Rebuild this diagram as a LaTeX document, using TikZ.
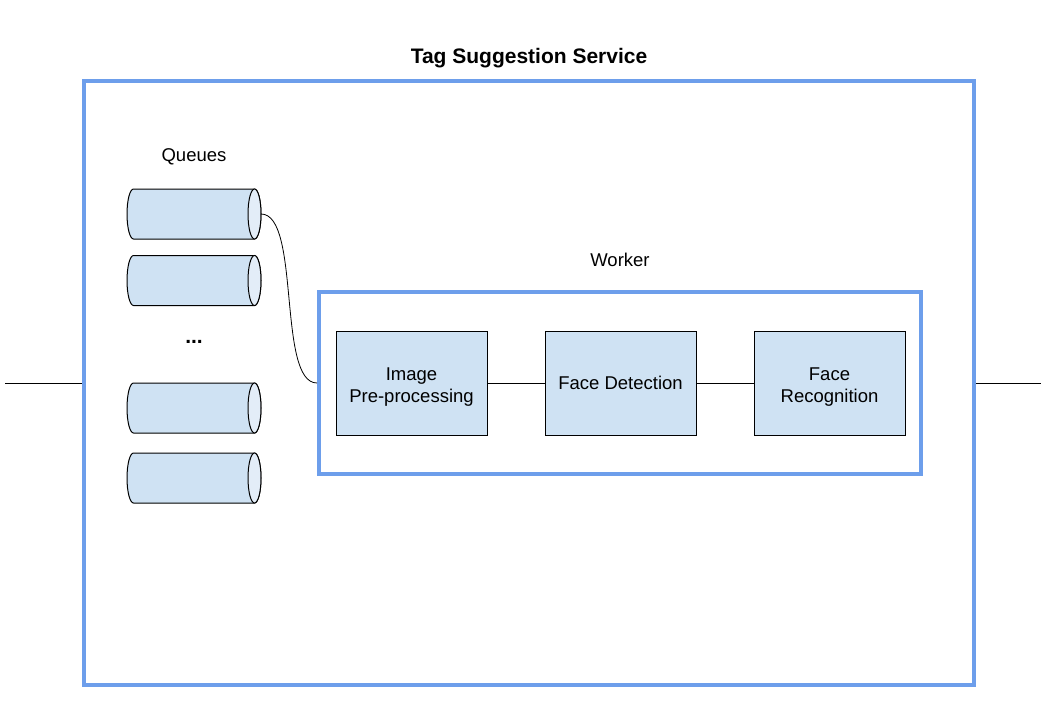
\documentclass[tikz,border=0pt]{standalone}
\usepackage{fontspec}
\setmainfont{Liberation Sans}
\usetikzlibrary{positioning}
\definecolor{boxfill}{HTML}{CFE2F3}
\definecolor{endfill}{HTML}{E3EDF8}
\definecolor{frameblue}{HTML}{6D9EEB}

\tikzset{
  queue/.pic = {
    \filldraw[line width=1pt, fill=boxfill] (60.5,-25) -- (-60.5,-25)
      arc (270:90:6.5 and 25) -- (60.5,25) arc (90:-90:6.5 and 25) -- cycle;
    \filldraw[line width=1pt, fill=endfill] (60.5,0) ellipse (6.5 and 25);
    \coordinate (-out) at (67,0);
  }
}
\newcommand{\toppad}{\rule{0pt}{20pt}}

\begin{document}
\begin{tikzpicture}[x=1pt, y=-1pt,
    every node/.style = {font=\fontsize{18.5}{22}\selectfont},
    frame/.style = {draw=frameblue, line width=4pt, minimum width=#1},
    stage/.style = {draw, line width=1pt, fill=boxfill, align=center,
      minimum width=151pt, minimum height=104pt, inner sep=0pt},
    link/.style = {draw, line width=0.8pt}]
    \useasboundingbox (0,0) rectangle (1047,720);

    % service and worker frames
    \node[frame=890pt, minimum height=604pt] (svc) at (529,383) {};
    \node[font=\bfseries\fontsize{21}{24}\selectfont] (title) at (529,58) {Tag Suggestion Service};
    \node[frame=602pt, minimum height=182pt] (wk) at (620,383) {};
    \node (wklabel) at (620,260) {Worker};

    % queues
    \node (qlabel) at (194,157) {Queues};
    \pic (q1) at (194,214) {queue};
    \pic (q2) at (194,280.5) {queue};
    \node[font=\bfseries\fontsize{21}{24}\selectfont] (dots) at (194,342) {...};
    \pic (q3) at (194,408) {queue};
    \pic (q4) at (194,478) {queue};

    % pipeline stages
    \node[stage] (pre) at (411.5,383) {\toppad Image\\[0pt]Pre-processing};
    \node[stage, right=57pt of pre] (det) {Face Detection};
    \node[stage, right=57pt of det] (rec) {\toppad Face\\[0pt]Recognition};

    \draw[link] (pre) -- (det);
    \draw[link] (det) -- (rec);
    \draw[link] (q1-out) .. controls +(40,0) and +(-40,0) .. (wk.west);

    % in and out
    \coordinate (inL) at (5,383);
    \coordinate (outR) at (1041,383);
    \draw[link] (inL) -- (svc.west);
    \draw[link] (svc.east) -- (outR);
  \end{tikzpicture}
\end{document}
